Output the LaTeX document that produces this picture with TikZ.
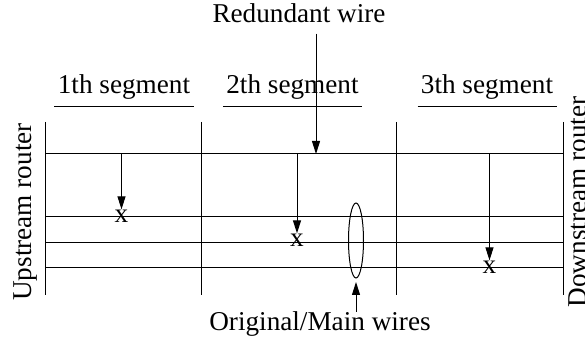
\documentclass[tikz,border=0pt]{standalone}
\usepackage{fontspec}
\setmainfont{Liberation Serif}
\usetikzlibrary{positioning,arrows.meta}

\begin{document}
\begin{tikzpicture}[
  x=0.5pt, y=-0.5pt,
  wire/.style={line width=0.5pt},
  arr/.style={-{Triangle[length=6.5pt,width=4pt]}, line width=0.5pt},
  txt/.style={font=\fontsize{13.6}{16}\selectfont, inner sep=0pt},
  seg/.style={txt, inner xsep=1.5pt, inner ysep=3pt, anchor=base},
  cross/.style={txt}
]
\useasboundingbox (0,0) rectangle (585,342);

% redundant wire on top, three main wires below
\foreach \y/\n in {154/r,217/a,243/b,268/c} {
  \coordinate (\n w) at (45,\y);
  \coordinate (\n e) at (563,\y);
  \draw[wire] (\n w) -- (\n e);
}
% segment borders
\foreach \x/\n in {45/0,201/1,396/2,563/3} {
  \coordinate (t\n) at (\x,122);
  \coordinate (b\n) at (\x,295);
  \draw[wire] (t\n) -- (b\n);
}

\node[seg] (seg1) at (124,94) {1th segment};
\node[seg] (seg2) at (292.5,94) {2th segment};
\node[seg] (seg3) at (487,94) {3th segment};
\foreach \s in {seg1,seg2,seg3}
  \draw[wire] (\s.south west) -- (\s.south east);

\node[txt, rotate=90, anchor=base] (up) at (32,212) {Upstream router};
\node[txt, rotate=90, anchor=base] (down) at (586,202) {Downstream router};

% redundant wire label
\node[txt, anchor=base] (redund) at (299,23) {Redundant wire};
\coordinate (rtip) at (316,154);
\draw[arr, shorten <=5pt] (redund.south -| rtip) -- (rtip);

% broken points
\node[cross] (x1) at (121.5,216) {x};
\node[cross] (x2) at (297,240) {x};
\node[cross] (x3) at (489.5,267) {x};
\draw[arr] (x1 |- rw) -- (x1);
\draw[arr] (x2 |- rw) -- (x2);
\draw[arr] (x3 |- rw) -- (x3);

% main wires bundle
\coordinate (bundle) at (356,240.5);
\coordinate (bundle s) at (356,278);
\draw[wire] (bundle) ellipse [x radius=7.5, y radius=37.5];
\node[txt, anchor=base] (main) at (320,331) {Original/Main wires};
\draw[arr, shorten >=2pt] (main.north -| bundle s) -- (bundle s);
\end{tikzpicture}
\end{document}
